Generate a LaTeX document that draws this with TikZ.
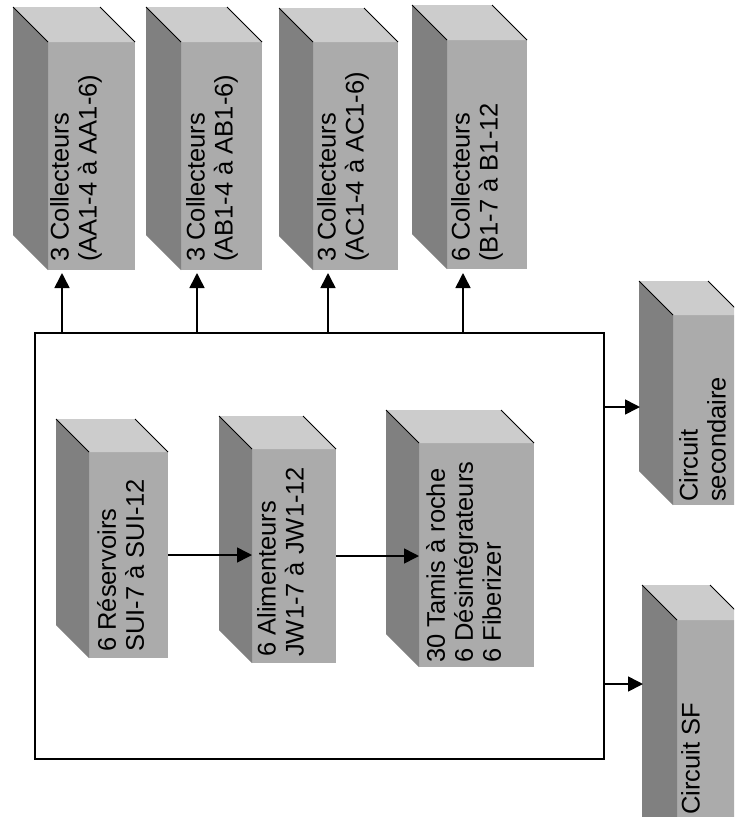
\documentclass[tikz,border=0pt]{standalone}
\usepackage{fontspec}
\setmainfont{Liberation Sans}
\usetikzlibrary{arrows.meta}
\definecolor{cfront}{gray}{0.67}
\definecolor{cside}{gray}{0.50}
\definecolor{ctop}{gray}{0.80}
\newcommand\mycube[6]{% name, x0, y0, width, height, depth
  \node[frontface, minimum width=#4pt, minimum height=#5pt] (#1) at (#2,#3) {};
  \fill[cside] (#1.north west) -- ++(-#6,-#6) -- ++(0,#5) -- (#1.south west) -- cycle;
  \fill[ctop] (#1.north west) -- ++(-#6,-#6) -- ++(#4,0) -- (#1.north east) -- cycle;
  \draw[cubeedge] (#1.north west) -- ++(-#6,-#6);
  \draw[cubeedge] (#1.north east) -- ++(-#6,-#6);
}
\begin{document}
\begin{tikzpicture}[x=1pt,y=-1pt,
  conn/.style={line width=1.6pt,-{Triangle[length=15pt,width=15pt]}},
  frontface/.style={fill=cfront, inner sep=0pt, outer sep=0pt, draw=none, anchor=north west},
  cubeedge/.style={line width=1pt},
  lbl/.style={rotate=90, anchor=north west, inner sep=0pt, align=left,
    font=\fontsize{25.5}{28}\selectfont},
  framebox/.style={draw, line width=1.6pt, inner sep=0pt, anchor=north west}
]
\useasboundingbox (0,0) rectangle (734,817);
\clip (0,0) rectangle (734,817);

% top collectors
\mycube{c1}{48}{42}{87}{228}{35}
\mycube{c2}{181}{42}{81}{228}{35}
\mycube{c3}{313}{42}{85}{228}{34}
\mycube{c4}{447}{40}{80}{229}{35}
\node[lbl] (t1) at (50,262) {3 Collecteurs\\(AA1-4 à AA1-6)};
\node[lbl] (t2) at (186,262) {3 Collecteurs\\(AB1-4 à AB1-6)};
\node[lbl] (t3) at (317,262) {3 Collecteurs\\(AC1-4 à AC1-6)};
\node[lbl] (t4) at (451,262) {6 Collecteurs\\(B1-7 à B1-12};

% main frame
\node[framebox, minimum width=569pt, minimum height=426pt] (frame) at (34,332) {};

% inner cubes
\mycube{ra}{89}{452}{79}{206}{33}
\mycube{rb}{252}{449}{84}{214}{33}
\mycube{rc}{419}{443}{115}{224}{33}
\node[lbl] (ta) at (97,652) {6 Réservoirs\\SUI-7 à SUI-12};
\node[lbl] (tb) at (257,657) {6 Alimenteurs\\JW1-7 à JW1-12};
\node[lbl] (tc) at (426,663) {30 Tamis à roche\\6 Désintégrateurs\\6 Fiberizer};

% right cubes
\mycube{cs}{673}{315}{69}{190}{34}
\mycube{sf}{677}{620}{68}{250}{35}
\node[lbl] (tcs) at (679,502) {Circuit\\secondaire};
\node[lbl] (tsf) at (681,815) {Circuit SF};

% connectors up to collectors
\coordinate (a1) at ([xshift=14pt,yshift=-3pt]c1.south west);
\coordinate (a2) at ([xshift=16pt,yshift=-3pt]c2.south west);
\coordinate (a3) at ([xshift=15pt,yshift=-3pt]c3.south west);
\coordinate (a4) at ([xshift=16pt,yshift=-4pt]c4.south west);
\draw[conn] (a1 |- frame.north) -- (a1);
\draw[conn] (a2 |- frame.north) -- (a2);
\draw[conn] (a3 |- frame.north) -- (a3);
\draw[conn] (a4 |- frame.north) -- (a4);

% inner flow
\draw[conn] (ra.east) -- (ra.east -| rb.west);
\draw[conn] (rb.east) -- (rb.east -| rc.west);

% right outputs
\coordinate (csin) at ([xshift=-33pt,yshift=3pt]cs.west);
\coordinate (sfin) at ([xshift=-34pt,yshift=-64pt]sf.north west);
\draw[conn] (csin -| frame.east) -- (csin);
\draw[conn] (sfin -| frame.east) -- (sfin);
\end{tikzpicture}
\end{document}
